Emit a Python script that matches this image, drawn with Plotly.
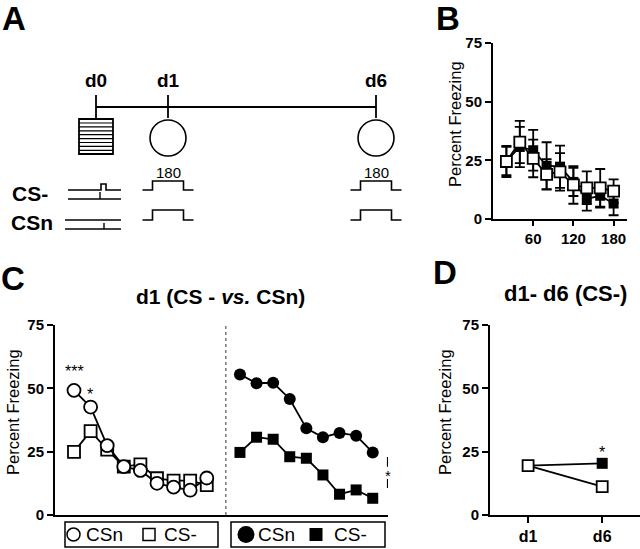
import plotly.graph_objects as go

W, H = 640, 549
FONT = "Liberation Sans, Arial, Helvetica, sans-serif"

# ---------------- data ----------------
# Panel B: CS- freezing across the 180 s test (open = d1, filled = d6)
b_time = [20, 40, 60, 80, 100, 120, 140, 160, 180]
b_open = [24.5, 32.8, 25.8, 19.0, 20.1, 14.5, 13.3, 13.3, 11.9]
b_open_sem = [6.6, 9.0, 8.0, 6.5, 8.0, 8.0, 7.0, 8.0, 5.0]
b_filled = [24.7, 30.7, 29.3, 22.7, 22.3, 15.8, 8.6, 9.9, 6.6]
b_filled_sem = [6.0, 8.6, 8.7, 10.0, 9.0, 6.0, 5.0, 5.0, 5.0]
b_xticks = [60, 120, 180]

# Panel C: d1, CS- vs CSn (two groups)
c_trial = [1, 2, 3, 4, 5, 6, 7, 8, 9]
c_right_offset = 10
c_csn_open = [49.2, 42.6, 27.4, 19.1, 17.6, 12.5, 11.0, 9.8, 14.6]
c_csm_open = [24.9, 33.1, 25.8, 19.1, 20.0, 14.5, 13.6, 13.6, 11.8]
c_csn_filled = [55.5, 52.0, 52.2, 45.8, 34.2, 30.7, 32.4, 31.3, 24.7]
c_csm_filled = [24.7, 30.7, 29.9, 23.0, 22.4, 15.8, 8.2, 9.9, 6.6]
c_legend_labels = ["CSn", "CS-"]

# Panel D: d1 - d6 (CS-)
d_days = ["d1", "d6"]
d_pos = [1, 2]
d_open = [19.5, 11.2]
d_filled = [19.5, 20.4]

y_ticks = [0, 25, 50, 75]

# Panel A schematic (timeline positions in schematic units)
a_day_labels = ["d0", "d1", "d6"]
a_day_x = [96, 168, 376]
a_test_label = "180"


def px(x):
    return x / W


def py(y):
    return 1 - y / H


fig = go.Figure()
BLK = "black"

# ---------------- Panel C ----------------
right_x = [t + c_right_offset for t in c_trial]
fig.add_trace(go.Scatter(x=c_trial, y=c_csm_open, mode="lines+markers",
                         line=dict(color=BLK, width=1.8),
                         marker=dict(symbol="square", size=12, color="white",
                                     line=dict(color=BLK, width=1.8)),
                         xaxis="x", yaxis="y", cliponaxis=False))
fig.add_trace(go.Scatter(x=c_trial, y=c_csn_open, mode="lines+markers",
                         line=dict(color=BLK, width=1.8),
                         marker=dict(symbol="circle", size=13, color="white",
                                     line=dict(color=BLK, width=1.8)),
                         xaxis="x", yaxis="y", cliponaxis=False))
fig.add_trace(go.Scatter(x=right_x, y=c_csn_filled, mode="lines+markers",
                         line=dict(color=BLK, width=1.8),
                         marker=dict(symbol="circle", size=12, color=BLK),
                         xaxis="x", yaxis="y", cliponaxis=False))
fig.add_trace(go.Scatter(x=right_x, y=c_csm_filled, mode="lines+markers",
                         line=dict(color=BLK, width=1.8),
                         marker=dict(symbol="square", size=11, color=BLK),
                         xaxis="x", yaxis="y", cliponaxis=False))

# ---------------- Panel B ----------------
fig.add_trace(go.Scatter(x=b_time, y=b_filled, mode="lines+markers",
                         line=dict(color=BLK, width=1.8),
                         marker=dict(symbol="square", size=10, color=BLK),
                         error_y=dict(type="data", array=b_filled_sem, color=BLK,
                                      thickness=1.8, width=5),
                         xaxis="x2", yaxis="y2", cliponaxis=False))
fig.add_trace(go.Scatter(x=b_time, y=b_open, mode="lines+markers",
                         line=dict(color=BLK, width=1.8),
                         marker=dict(symbol="square", size=11, color="white",
                                     line=dict(color=BLK, width=1.8)),
                         error_y=dict(type="data", array=b_open_sem, color=BLK,
                                      thickness=1.8, width=5),
                         xaxis="x2", yaxis="y2", cliponaxis=False))

# ---------------- Panel D ----------------
fig.add_trace(go.Scatter(x=d_pos, y=d_filled, mode="lines+markers",
                         line=dict(color=BLK, width=1.8),
                         marker=dict(symbol="square", size=11, color=BLK),
                         xaxis="x3", yaxis="y3", cliponaxis=False))
fig.add_trace(go.Scatter(x=d_pos, y=d_open, mode="lines+markers",
                         line=dict(color=BLK, width=1.8),
                         marker=dict(symbol="square", size=11, color="white",
                                     line=dict(color=BLK, width=1.8)),
                         xaxis="x3", yaxis="y3", cliponaxis=False))

# timeline of the schematic
fig.add_trace(go.Scatter(x=[a_day_x[0], a_day_x[-1]], y=[107, 107], mode="lines",
                         line=dict(color=BLK, width=1.8),
                         xaxis="x4", yaxis="y4", hoverinfo="skip"))

# legend key symbols (drawn on a full-figure overlay axis)
leg_y = 534.5
fig.add_trace(go.Scatter(x=[73.5], y=[leg_y], mode="markers",
                         marker=dict(symbol="circle", size=13, color="white",
                                     line=dict(color=BLK, width=1.5)),
                         xaxis="x5", yaxis="y5", hoverinfo="skip", cliponaxis=False))
fig.add_trace(go.Scatter(x=[149], y=[leg_y], mode="markers",
                         marker=dict(symbol="square", size=12, color="white",
                                     line=dict(color=BLK, width=1.5)),
                         xaxis="x5", yaxis="y5", hoverinfo="skip", cliponaxis=False))
fig.add_trace(go.Scatter(x=[246], y=[leg_y], mode="markers",
                         marker=dict(symbol="circle", size=17, color=BLK),
                         xaxis="x5", yaxis="y5", hoverinfo="skip", cliponaxis=False))
fig.add_trace(go.Scatter(x=[316], y=[leg_y], mode="markers",
                         marker=dict(symbol="square", size=13, color=BLK),
                         xaxis="x5", yaxis="y5", hoverinfo="skip", cliponaxis=False))

tickfont = dict(family=FONT, size=15, color=BLK, weight="bold")
yax_common = dict(range=[0, 75], tickvals=y_ticks, ticks="outside", ticklen=6,
                  tickwidth=1.8, tickcolor=BLK, showline=True, linewidth=2,
                  linecolor=BLK, showgrid=False, zeroline=False, tickfont=tickfont,
                  automargin=False)

fig.update_layout(
    width=W, height=H,
    margin=dict(l=0, r=0, t=0, b=0, pad=0, autoexpand=False),
    paper_bgcolor="white", plot_bgcolor="rgba(0,0,0,0)", showlegend=False,
    font=dict(family=FONT, color=BLK),
    xaxis=dict(domain=[px(55), px(388)], range=[-0.145, 19.92], showline=True,
               linewidth=1.8, linecolor=BLK, showticklabels=False, ticks="",
               showgrid=False, zeroline=False, anchor="y", automargin=False),
    yaxis=dict(domain=[py(515), py(325)], anchor="x", **yax_common),
    xaxis2=dict(domain=[px(493), px(627)], range=[0, 200], tickvals=b_xticks,
                ticks="outside", ticklen=5, tickwidth=1.8, tickcolor=BLK,
                showline=True, linewidth=1.8, linecolor=BLK, showgrid=False,
                zeroline=False, tickfont=tickfont, anchor="y2", automargin=False),
    yaxis2=dict(domain=[py(219), py(43)], anchor="x2", **yax_common),
    xaxis3=dict(domain=[px(490), 1.0], range=[0.486, 2.51], tickvals=d_pos,
                ticktext=d_days, ticks="outside", ticklen=6, tickwidth=1.8,
                tickcolor=BLK, showline=True, linewidth=1.8, linecolor=BLK,
                showgrid=False, zeroline=False,
                tickfont=dict(family=FONT, size=16, color=BLK, weight="bold"),
                anchor="y3", automargin=False),
    yaxis3=dict(domain=[py(515), py(325)], anchor="x3", **yax_common),
    xaxis4=dict(domain=[0, px(420)], range=[0, 420], visible=False, anchor="y4",
                automargin=False),
    yaxis4=dict(domain=[py(250), 1.0], range=[250, 0], visible=False, anchor="x4",
                automargin=False),
    xaxis5=dict(domain=[0, 1], range=[0, W], visible=False, anchor="y5",
                automargin=False),
    yaxis5=dict(domain=[0, 1], range=[H, 0], visible=False, anchor="x5",
                automargin=False),
)

shapes = []
ann = []


def add_text(text, x, y, size, xref="paper", yref="paper", angle=0):
    ann.append(dict(text=text, x=x, y=y, xref=xref, yref=yref, showarrow=False,
                    xanchor="center", yanchor="middle", textangle=angle,
                    font=dict(size=size, family=FONT, color=BLK)))


# ---------------- Panel A schematic ----------------
ax4 = dict(xref="x4", yref="y4")
for x in a_day_x:
    shapes.append(dict(type="line", x0=x, x1=x, y0=95, y1=118,
                       line=dict(color=BLK, width=1.8), **ax4))
for lab, x in zip(a_day_labels, a_day_x):
    add_text("<b>%s</b>" % lab, x, 80, 19, "x4", "y4")
# shock (striped box) at d0
bx = a_day_x[0]
shapes.append(dict(type="rect", x0=bx - 17, x1=bx + 17, y0=119, y1=154,
                   line=dict(color=BLK, width=1.8), fillcolor="white", **ax4))
yy = 123
while yy < 152:
    shapes.append(dict(type="line", x0=bx - 17, x1=bx + 17, y0=yy, y1=yy,
                       line=dict(color=BLK, width=1.2), **ax4))
    yy += 3.9
# test context circles + pulses at d1 and d6
for x in a_day_x[1:]:
    shapes.append(dict(type="circle", x0=x - 18, x1=x + 18, y0=120, y1=156,
                       line=dict(color=BLK, width=1.6), **ax4))
    add_text(a_test_label, x, 172, 15, "x4", "y4")
    for base, top in [(190, 181), (220, 210)]:
        path = "M %g,%g L %g,%g L %g,%g L %g,%g L %g,%g L %g,%g" % (
            x - 25.5, base, x - 15.5, base, x - 15.5, top, x + 15.5, top,
            x + 15.5, base, x + 25.5, base)
        shapes.append(dict(type="path", path=path,
                           line=dict(color=BLK, width=1.6), **ax4))
# d0 conditioning traces
shapes.append(dict(type="path", path="M 68,190 L 101,190 L 101,184 L 106,184 L 106,190 L 121,190",
                   line=dict(color=BLK, width=1.6), **ax4))
shapes.append(dict(type="line", x0=68, x1=121, y0=199, y1=199,
                   line=dict(color=BLK, width=1.6), **ax4))
shapes.append(dict(type="line", x0=100, x1=100, y0=192, y1=199,
                   line=dict(color=BLK, width=1.4), **ax4))
shapes.append(dict(type="line", x0=65, x1=121, y0=220, y1=220,
                   line=dict(color=BLK, width=1.6), **ax4))
shapes.append(dict(type="line", x0=65, x1=121, y0=229, y1=229,
                   line=dict(color=BLK, width=1.6), **ax4))
shapes.append(dict(type="line", x0=104, x1=104, y0=223, y1=229,
                   line=dict(color=BLK, width=1.4), **ax4))
add_text("<b>CS-</b>", 30, 193, 21, "x4", "y4")
add_text("<b>CSn</b>", 32, 222, 21, "x4", "y4")

# ---------------- Panel C extras ----------------
shapes.append(dict(type="line", xref="x", yref="y", x0=10.15, x1=10.15, y0=0, y1=81,
                   line=dict(color="#333", width=1, dash="dot")))
shapes.append(dict(type="line", xref="x", yref="y", x0=19.9, x1=19.9, y0=22.9, y1=19.0,
                   line=dict(color=BLK, width=1.5)))
shapes.append(dict(type="line", xref="x", yref="y", x0=19.9, x1=19.9, y0=14.2, y1=10.7,
                   line=dict(color=BLK, width=1.5)))
add_text("*", 19.9, 15.5, 15, "x", "y")
add_text("***", 1, 56.5, 16, "x", "y")
add_text("*", 1.96, 47.5, 16, "x", "y")
add_text("<b>d1 (CS - <i>vs.</i> CSn)</b>", px(220), py(296), 21)

# legend boxes (frames + texts)
for x0, x1 in [(65, 218), (231, 385)]:
    shapes.append(dict(type="rect", xref="paper", yref="paper",
                       x0=px(x0), x1=px(x1), y0=py(547), y1=py(522),
                       line=dict(color=BLK, width=1.5)))
for lab, xc in zip(c_legend_labels * 2, [104.5, 180, 276, 350]):
    add_text(lab, xc, leg_y, 19, "x5", "y5")

# ---------------- Panel D extras ----------------
add_text("*", 2, 24.5, 16, "x3", "y3")
add_text("<b>d1- d6 (CS-)</b>", px(565), py(293), 22)

# y-axis titles
for xc, yc in [(13, 412), (455, 124), (445, 412)]:
    add_text("Percent Freezing", px(xc), py(yc), 16.5, angle=-90)

# panel letters
for lab, xc, yc in [("A", 14, 18), ("B", 448, 18), ("C", 13, 278), ("D", 445, 272)]:
    add_text("<b>%s</b>" % lab, px(xc), py(yc), 33)

fig.update_layout(shapes=shapes, annotations=ann)
fig.write_html("out.html", config={"displayModeBar": False},
               post_script="document.body.style.margin='0px';document.body.style.overflow='hidden';")
